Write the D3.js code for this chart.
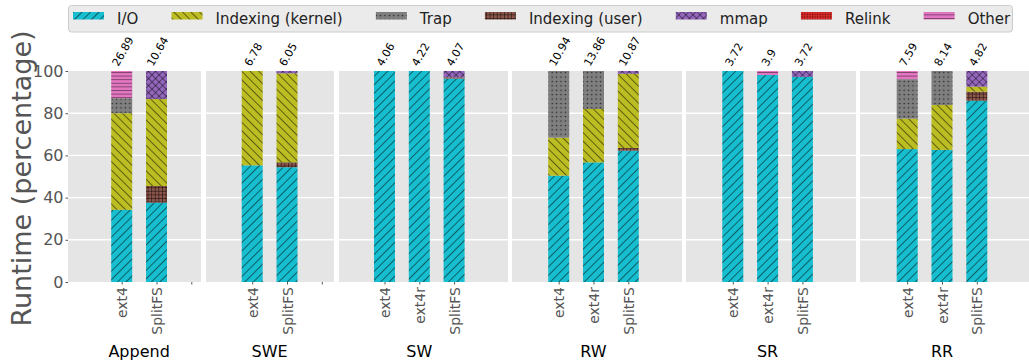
<!DOCTYPE html>
<html>
<head>
<meta charset="utf-8">
<script src="https://cdn.jsdelivr.net/npm/d3@7/dist/d3.min.js"></script>
<style>
  html, body { margin: 0; padding: 0; background: #fff; }
  svg { display: block; font-family: "DejaVu Sans", sans-serif; }
</style>
</head>
<body>
<svg id="chart" width="1029" height="364"></svg>
<script>
// ---- data -------------------------------------------------------------
const groups = ["Append", "SWE", "SW", "RW", "SR", "RR"];
const systems = [
  ["ext4", "SplitFS", ""],
  ["ext4", "SplitFS", ""],
  ["ext4", "ext4r", "SplitFS"],
  ["ext4", "ext4r", "SplitFS"],
  ["ext4", "ext4r", "SplitFS"],
  ["ext4", "ext4r", "SplitFS"]
];
// absolute runtime printed above each bar (same order as the bars)
const totals = ["26.89", "10.64", "6.78", "6.05", "4.06", "4.22", "4.07",
                "10.94", "13.86", "10.87", "3.72", "3.9", "3.72", "7.59", "8.14", "4.82"];

const components = ["I/O", "Indexing (kernel)", "Trap", "Indexing (user)", "mmap", "Relink", "Other"];
// percentage share of each component, one entry per bar
const ioPct     = [34.2, 37.6, 55.3, 54.4, 100, 100, 96.4, 50.4, 56.7, 62.2, 100, 98.1, 97.2, 63.0, 62.6, 85.9];
const kernelPct = [45.8, 41.2, 44.7, 42.2, 0, 0, 0, 18.0, 25.3, 35.2, 0, 0, 0, 14.4, 21.3, 2.4];
const trapPct   = [7.1, 0, 0, 0, 0, 0, 0, 31.6, 18.0, 0, 0, 0, 0, 18.7, 16.1, 0];
const userPct   = [0, 7.9, 0, 2.3, 0, 0, 0.6, 0, 0, 1.3, 0, 0, 0, 0, 0, 4.3];
const mmapPct   = [0, 13.3, 0, 1.1, 0, 0, 3.0, 0, 0, 1.3, 0, 0, 2.8, 0, 0, 7.4];
const relinkPct = [0, 0, 0, 0, 0, 0, 0, 0, 0, 0, 0, 0, 0, 0, 0, 0];
const otherPct  = [12.9, 0, 0, 0, 0, 0, 0, 0, 0, 0, 0, 1.9, 0, 3.9, 0, 0];
const yTicks = [0, 20, 40, 60, 80, 100];

// ---- styling ----------------------------------------------------------
const series = {
  "I/O":               { values: ioPct,     color: "#17becf", hatch: "fwd" },
  "Indexing (kernel)": { values: kernelPct, color: "#bcbd22", hatch: "back" },
  "Trap":              { values: trapPct,   color: "#7f7f7f", hatch: "dots" },
  "Indexing (user)":   { values: userPct,   color: "#8c564b", hatch: "grid" },
  "mmap":              { values: mmapPct,   color: "#9467bd", hatch: "cross" },
  "Relink":            { values: relinkPct, color: "#d62728", hatch: "fine" },
  "Other":             { values: otherPct,  color: "#e377c2", hatch: "horiz" }
};
// bottom-to-top stacking order
const stackOrder = ["I/O", "Indexing (user)", "Indexing (kernel)", "Trap", "mmap", "Relink", "Other"];

// facet frames (pixel extents) and first-slot offset inside each frame
const facets = [
  { x0: 68,  x1: 201,  first: 53.7 },
  { x0: 206, x1: 334,  first: 46.2 },
  { x0: 339, x1: 508,  first: 45.5 },
  { x0: 512, x1: 682,  first: 46.7 },
  { x0: 686, x1: 856,  first: 46.8 },
  { x0: 860, x1: 1030, first: 47.2 }
];
const slotStep = 34.8, barW = 21;
const plotTop = 71, plotBottom = 282;

const svg = d3.select("#chart");
const defs = svg.append("defs");
const hatchInk = "rgba(0,0,0,0.6)";

// ---- hatch patterns ---------------------------------------------------
function makePattern(id, color, kind) {
  let p;
  if (kind === "fwd" || kind === "back") {
    p = defs.append("pattern").attr("id", id).attr("patternUnits", "userSpaceOnUse")
      .attr("width", 6).attr("height", 6)
      .attr("patternTransform", kind === "fwd" ? "rotate(45)" : "rotate(-45)");
    p.append("rect").attr("width", 6).attr("height", 6).attr("fill", color);
    p.append("line").attr("x1", 0.5).attr("x2", 0.5).attr("y1", 0).attr("y2", 6)
      .attr("stroke", hatchInk).attr("stroke-width", 0.85);
  } else if (kind === "dots") {
    p = defs.append("pattern").attr("id", id).attr("patternUnits", "userSpaceOnUse")
      .attr("width", 4.4).attr("height", 4.4);
    p.append("rect").attr("width", 4.4).attr("height", 4.4).attr("fill", color);
    p.append("circle").attr("cx", 2.2).attr("cy", 2.2).attr("r", 0.75).attr("fill", "rgba(0,0,0,0.75)");
  } else if (kind === "fine") {
    p = defs.append("pattern").attr("id", id).attr("patternUnits", "userSpaceOnUse")
      .attr("width", 2.6).attr("height", 2.6);
    p.append("rect").attr("width", 2.6).attr("height", 2.6).attr("fill", color);
    p.append("circle").attr("cx", 1.3).attr("cy", 1.3).attr("r", 0.6).attr("fill", "rgba(0,0,0,0.7)");
  } else if (kind === "grid") {
    p = defs.append("pattern").attr("id", id).attr("patternUnits", "userSpaceOnUse")
      .attr("width", 3.6).attr("height", 3.6);
    p.append("rect").attr("width", 3.6).attr("height", 3.6).attr("fill", color);
    p.append("line").attr("x1", 0).attr("x2", 3.6).attr("y1", 0.4).attr("y2", 0.4)
      .attr("stroke", hatchInk).attr("stroke-width", 0.8);
    p.append("line").attr("x1", 0.4).attr("x2", 0.4).attr("y1", 0).attr("y2", 3.6)
      .attr("stroke", hatchInk).attr("stroke-width", 0.8);
  } else if (kind === "cross") {
    p = defs.append("pattern").attr("id", id).attr("patternUnits", "userSpaceOnUse")
      .attr("width", 5).attr("height", 5).attr("patternTransform", "rotate(45)");
    p.append("rect").attr("width", 5).attr("height", 5).attr("fill", color);
    p.append("line").attr("x1", 0.4).attr("x2", 0.4).attr("y1", 0).attr("y2", 5)
      .attr("stroke", hatchInk).attr("stroke-width", 0.8);
    p.append("line").attr("x1", 0).attr("x2", 5).attr("y1", 0.4).attr("y2", 0.4)
      .attr("stroke", hatchInk).attr("stroke-width", 0.8);
  } else if (kind === "horiz") {
    p = defs.append("pattern").attr("id", id).attr("patternUnits", "userSpaceOnUse")
      .attr("width", 4).attr("height", 3.6);
    p.append("rect").attr("width", 4).attr("height", 3.6).attr("fill", color);
    p.append("line").attr("x1", 0).attr("x2", 4).attr("y1", 0.5).attr("y2", 0.5)
      .attr("stroke", "rgba(0,0,0,0.55)").attr("stroke-width", 0.8);
  }
}
components.forEach((c, i) => makePattern("hatch" + i, series[c].color, series[c].hatch));
const fillOf = c => `url(#hatch${components.indexOf(c)})`;

// ---- scales -----------------------------------------------------------
const y = d3.scaleLinear().domain([0, 100]).range([plotBottom, plotTop]);

// flat list of bars with their stacked segments
let barIndex = 0;
const bars = [];
const facetScales = [];
groups.forEach((g, gi) => {
  const f = facets[gi];
  const x = d3.scalePoint().domain(systems[gi].map((s, k) => k))
    .range([f.x0 + f.first, f.x0 + f.first + slotStep * (systems[gi].length - 1)]);
  facetScales.push(x);
  systems[gi].forEach((s, k) => {
    if (s === "") return;
    let acc = 0;
    const segs = stackOrder.map(c => {
      const v = series[c].values[barIndex];
      const seg = { comp: c, y0: acc, y1: acc + v };
      acc += v;
      return seg;
    }).filter(d => d.y1 - d.y0 > 0);
    bars.push({ group: gi, slot: k, cx: x(k), label: totals[barIndex], segs });
    barIndex++;
  });
});

// ---- facets: background + grid --------------------------------------
const facetG = svg.append("g");
facets.forEach(f => {
  facetG.append("rect").attr("x", f.x0).attr("y", plotTop)
    .attr("width", f.x1 - f.x0).attr("height", plotBottom - plotTop).attr("fill", "#e5e5e5");
  yTicks.filter(t => t > 0 && t < 100).forEach(t => {
    facetG.append("line").attr("x1", f.x0).attr("x2", f.x1)
      .attr("y1", y(t)).attr("y2", y(t)).attr("stroke", "#fff").attr("stroke-width", 1.4);
  });
});

// ---- y axis -----------------------------------------------------------
const yAxis = d3.axisLeft(y).tickValues(yTicks).tickSize(2.5).tickPadding(2).tickFormat(d3.format("d"));
const yAxisG = svg.append("g").attr("transform", `translate(${facets[0].x0},0)`).call(yAxis);
yAxisG.select(".domain").remove();
yAxisG.selectAll(".tick line").attr("stroke", "#555").attr("stroke-width", 1);
yAxisG.selectAll(".tick text").attr("fill", "#555").attr("font-size", 16)
  .attr("font-family", "DejaVu Sans");

svg.append("text")
  .attr("transform", `translate(31,${(plotTop + plotBottom) / 2 + 2}) rotate(-90)`)
  .attr("text-anchor", "middle").attr("font-size", 27).attr("fill", "#555")
  .text("Runtime (percentage)");

// ---- x axes per facet -------------------------------------------------
groups.forEach((g, gi) => {
  const x = facetScales[gi];
  const ax = d3.axisBottom(x).tickSize(2.5).tickPadding(4).tickFormat(k => systems[gi][k]);
  const axG = svg.append("g").attr("transform", `translate(0,${plotBottom})`).call(ax);
  axG.select(".domain").remove();
  axG.selectAll(".tick line").attr("stroke", "#555");
  axG.selectAll(".tick text")
    .attr("fill", "#555").attr("font-size", 14).attr("font-family", "DejaVu Sans")
    .attr("text-anchor", "end").attr("dy", null).attr("y", null)
    .attr("transform", "translate(0,5) rotate(-90)")
    .attr("dominant-baseline", "central");
  const real = systems[gi].map((s, k) => k).filter(k => systems[gi][k] !== "");
  const mid = d3.mean(real, k => x(k));
  svg.append("text").attr("x", mid).attr("y", 357).attr("text-anchor", "middle")
    .attr("font-size", 16).attr("fill", "#000").text(g);
});

// ---- stacked bars -----------------------------------------------------
const barG = svg.append("g");
bars.forEach(b => {
  barG.selectAll(null).data(b.segs).enter().append("rect")
    .attr("x", b.cx - barW / 2).attr("width", barW)
    .attr("y", d => y(d.y1)).attr("height", d => y(d.y0) - y(d.y1))
    .attr("fill", d => fillOf(d.comp));
});

// ---- runtime labels above bars ---------------------------------------
const angle = 60, rad = angle * Math.PI / 180, ascent = 8;
bars.forEach(b => {
  const t = svg.append("text").attr("font-size", 11).attr("fill", "#000").text(b.label);
  const L = t.node().getComputedTextLength();
  // centre the rotated box on the bar, its bottom resting just above the plot
  const dx = (L * Math.cos(rad) - ascent * Math.sin(rad)) / 2;
  t.attr("transform", `translate(${b.cx - dx + 1},${plotTop - 4}) rotate(${-angle})`);
});

// ---- legend -----------------------------------------------------------
const leg = svg.append("g");
leg.append("rect").attr("x", 68.5).attr("y", 5.5).attr("width", 944).attr("height", 26.5)
  .attr("rx", 3).attr("fill", "#ebebeb").attr("stroke", "#cccccc").attr("stroke-width", 1);
let lx = 73;
components.forEach(c => {
  leg.append("rect").attr("x", lx).attr("y", 12).attr("width", 31).attr("height", 7.5)
    .attr("fill", fillOf(c));
  const t = leg.append("text").attr("x", lx + 44).attr("y", 23.5)
    .attr("font-size", 15).attr("fill", "#222").text(c);
  lx = lx + 44 + t.node().getComputedTextLength() + 33.2;
});
</script>
</body>
</html>
